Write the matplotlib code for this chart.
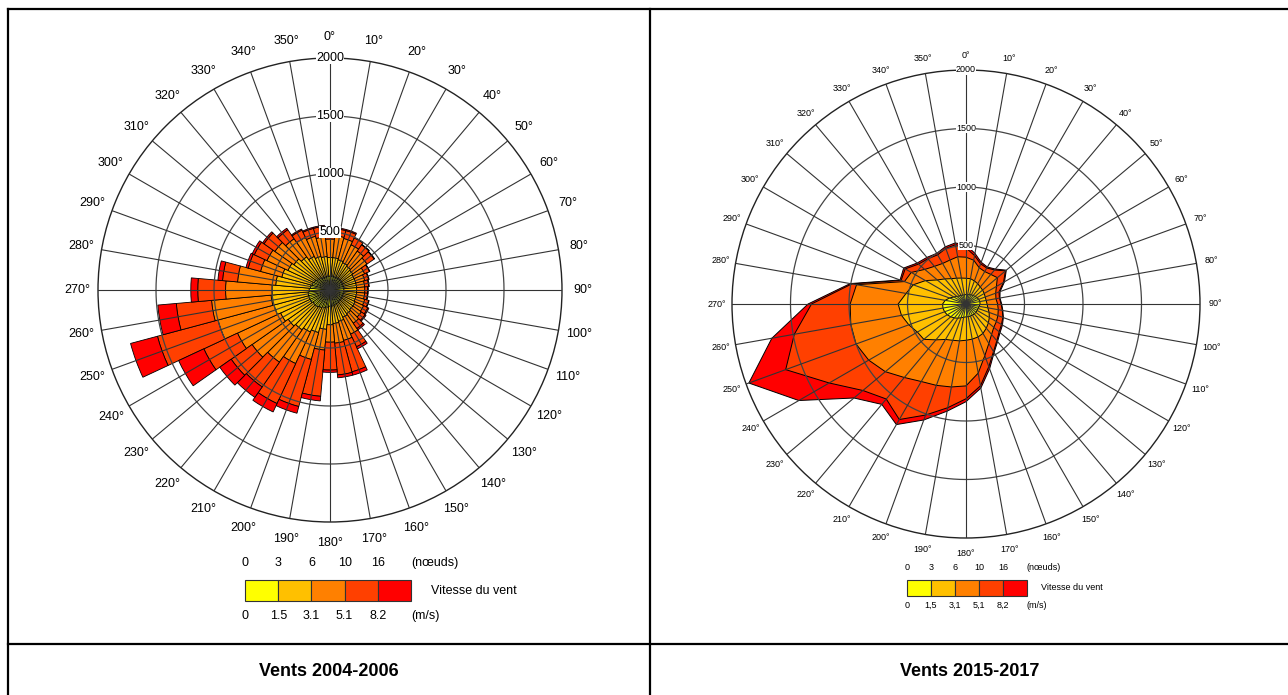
import numpy as np
import matplotlib.pyplot as plt
from matplotlib.patches import Rectangle

plt.rcParams['font.family'] = ['Liberation Sans', 'DejaVu Sans']

# wind directions (deg, compass) and speed classes
directions = np.arange(0, 360, 10)
class_colors = ['#FFFF00', '#FFC000', '#FF8000', '#FF4000', '#FF0000']
knots_labels = ['0', '3', '6', '10', '16']
ms_labels_left = ['0', '1.5', '3.1', '5.1', '8.2']
ms_labels_right = ['0', '1,5', '3,1', '5,1', '8,2']
rings = [500, 1000, 1500, 2000]

# 2004-2006 : cumulative counts per direction (upper bound of each speed class)
left_c1 = [120, 120, 120, 120, 120, 120, 120, 120, 120, 120, 120, 120,
           120, 120, 120, 130, 130, 140, 140, 150, 160, 170, 180, 180,
           190, 190, 190, 180, 170, 160, 150, 140, 130, 120, 120, 120]
left_c2 = [280, 280, 270, 260, 250, 240, 230, 230, 230, 230, 230, 230,
           240, 240, 250, 260, 280, 290, 300, 340, 380, 400, 420, 440,
           470, 500, 510, 500, 470, 430, 400, 380, 350, 320, 300, 290]
left_c3 = [440, 470, 460, 430, 410, 390, 330, 310, 300, 300, 300, 310,
           320, 330, 350, 420, 450, 460, 450, 520, 620, 700, 760, 820,
           880, 1000, 1025, 900, 800, 620, 600, 580, 540, 500, 480, 460]
left_c4 = [515, 530, 530, 495, 475, 465, 375, 345, 335, 325, 325, 345,
           360, 370, 405, 540, 730, 735, 690, 920, 1040, 1080, 1020, 1040,
           1200, 1540, 1330, 1140, 930, 730, 720, 695, 635, 570, 550, 550]
left_total = [520, 540, 540, 500, 480, 470, 380, 350, 340, 330, 330, 350,
              370, 380, 420, 560, 760, 760, 710, 960, 1100, 1160, 1130, 1160,
              1440, 1780, 1490, 1200, 970, 750, 740, 710, 650, 580, 560, 560]

# 2015-2017 : cumulative counts per direction
right_c1 = [80, 80, 85, 90, 95, 100, 110, 115, 120, 120, 115, 110,
            110, 110, 110, 110, 110, 110, 110, 115, 125, 140, 155, 170,
            185, 195, 200, 200, 180, 150, 120, 100, 90, 85, 80, 80]
right_c2 = [220, 220, 210, 200, 190, 185, 180, 175, 175, 180, 190, 210,
            230, 250, 270, 290, 300, 305, 310, 320, 330, 350, 400, 470,
            480, 520, 560, 580, 520, 480, 400, 320, 280, 250, 235, 225]
right_c3 = [400, 380, 330, 320, 330, 350, 300, 270, 260, 270, 280, 290,
            300, 310, 340, 390, 470, 600, 700, 720, 740, 765, 820, 900,
            960, 1000, 1000, 990, 950, 560, 540, 460, 420, 400, 400, 410]
right_c4 = [480, 420, 365, 355, 380, 440, 370, 300, 290, 300, 315, 335,
            350, 370, 410, 470, 570, 710, 810, 900, 1010, 1140, 1060, 1150,
            1350, 1640, 1490, 1320, 990, 590, 600, 530, 505, 485, 505, 515]
right_total = [505, 440, 380, 365, 390, 450, 380, 310, 295, 305, 320, 340,
               360, 380, 420, 480, 590, 730, 835, 930, 1055, 1190, 1120, 1250,
               1650, 1975, 1685, 1350, 1005, 600, 615, 545, 520, 500, 520, 530]

fig = plt.figure(figsize=(12.88, 6.95), dpi=100)

# overlay in pixel coordinates for the table frame, titles and legends
over = fig.add_axes([0, 0, 1, 1])
over.set_xlim(0, 1288)
over.set_ylim(695, 0)
over.axis('off')
over.plot([8, 1288], [9, 9], color='black', lw=1.6)
over.plot([8, 8], [9, 695], color='black', lw=1.6)
over.plot([650, 650], [9, 695], color='black', lw=1.6)
over.plot([8, 1288], [644, 644], color='black', lw=1.6)
over.text(329, 672, 'Vents 2004-2006', ha='center', va='center', fontsize=13, fontweight='bold')
over.text(970, 672, 'Vents 2015-2017', ha='center', va='center', fontsize=13, fontweight='bold')


def legend(x0, step, y_bar, h_bar, y_top, y_bot, ms_labels, fs):
    for i, c in enumerate(class_colors):
        over.add_patch(Rectangle((x0 + i * step, y_bar), step, h_bar,
                                 facecolor=c, edgecolor='#333333', lw=0.8))
    for i in range(5):
        over.text(x0 + i * step, y_top, knots_labels[i], ha='center', va='center', fontsize=fs)
        over.text(x0 + i * step, y_bot, ms_labels[i], ha='center', va='center', fontsize=fs)
    over.text(x0 + 5 * step, y_top, '(nœuds)', ha='left', va='center', fontsize=fs)
    over.text(x0 + 5 * step, y_bot, '(m/s)', ha='left', va='center', fontsize=fs)
    over.text(x0 + 5 * step + 0.6 * step, y_bar + h_bar / 2, 'Vitesse du vent',
              ha='left', va='center', fontsize=fs)


legend(245, 33.2, 580, 21, 563, 616, ms_labels_left, 9)
legend(907, 24, 580, 16, 567, 605, ms_labels_right, 6.5)


def make_rose(cx, cy, rad_px, fs, label_px):
    ax = fig.add_axes([(cx - rad_px) / 1288, (695 - cy - rad_px) / 695,
                       2 * rad_px / 1288, 2 * rad_px / 695], projection='polar')
    ax.set_theta_zero_location('N')
    ax.set_theta_direction(-1)
    ax.set_ylim(0, 2000)
    ax.set_xticks([])
    ax.set_yticks([])
    ax.grid(False)
    ax.spines['polar'].set_color('#222222')
    ax.spines['polar'].set_linewidth(1.0)
    th = np.linspace(0, 2 * np.pi, 721)
    for r in rings[:-1]:
        ax.plot(th, np.full_like(th, r), color='#444444', lw=0.9, zorder=3)
    for d in directions:
        ax.plot([np.deg2rad(d)] * 2, [0, 2000], color='#333333', lw=0.8, zorder=3)
    for r in rings:
        ax.text(0, r, str(r), ha='center', va='center', fontsize=fs, zorder=4,
                bbox=dict(facecolor='white', edgecolor='none', pad=0.3))
    label_r = 2000 * label_px / rad_px
    for d in directions:
        ax.text(np.deg2rad(d), label_r, f'{d}°', ha='center', va='center', fontsize=fs)
    return ax


theta = np.deg2rad(directions)

# left : stacked bars
axl = make_rose(330, 290, 232, 9, 253)
left_levels = [left_c1, left_c2, left_c3, left_c4, left_total]
prev = np.zeros(len(directions))
for lev, c in zip(left_levels, class_colors):
    lev = np.array(lev)
    axl.bar(theta, lev - prev, width=np.deg2rad(10), bottom=prev, color=c,
            edgecolor='black', linewidth=0.6, zorder=2)
    prev = lev

# right : filled polygons
axr = make_rose(966, 304, 234, 6.5, 249)
right_levels = [right_c1, right_c2, right_c3, right_c4, right_total]
th_closed = np.append(theta, theta[0])
for lev, c in zip(right_levels[::-1], class_colors[::-1]):
    lev = np.array(lev)
    axr.fill(th_closed, np.append(lev, lev[0]), facecolor=c, edgecolor='black',
             linewidth=0.7, zorder=2)

fig.savefig('out.png', dpi=100)
